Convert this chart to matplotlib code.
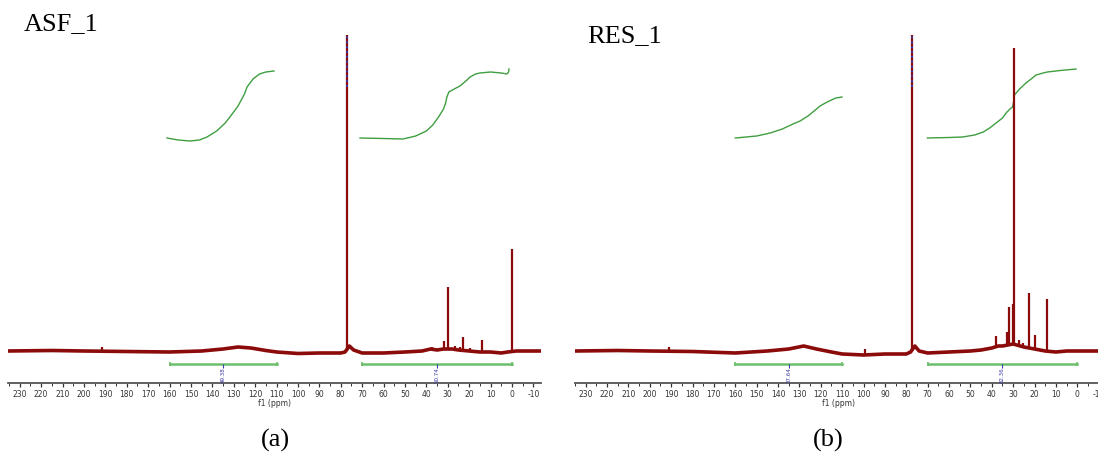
import matplotlib.pyplot as plt
import numpy as np

plt.rcParams['axes.unicode_minus'] = False

# ---- data (intensity in arbitrary units, 0 = baseline) ----
# panel (a) ASF_1
base_a_ppm = [235.5, 215, 200, 180, 160, 145, 135, 128, 122, 115, 110, 100, 90, 80, 78,
              76, 74, 70, 60, 50, 42, 38, 35, 32, 28, 25, 20, 15, 10, 5, 2, -2, -8, -13.6]
base_a_int = [1, 1.5, 1, 0.5, 0, 1, 3, 5, 4, 1.5, 0, -1.5, -1, -1, 0,
              6, 2, -1, -1, 0, 1, 3, 2, 3, 3, 2, 1, 0, 0, -1, 0, 1, 1, 1]
peak_a_ppm = [191.5, 77.2, 37.2, 31.9, 29.7, 26.5, 24.4, 22.7, 19.7, 14.1, 0.0]
peak_a_int = [5, 317, 5, 11, 65, 6, 5, 15, 4, 12, 103]
integ_a = [([161.2, 156, 150.5, 146, 142.5, 138, 134, 131.8, 128, 125, 123.8, 121, 118, 115, 111.2],
            [214, 212, 211, 212, 215, 221, 229, 235, 246, 258, 265, 273, 278, 280, 281]),
           ([71, 60, 50.9, 45, 40, 37, 34, 32, 31, 30.4, 29.5, 27, 24.3, 21, 19.6, 17, 15, 10, 5,
             2.3, 1.6, 1.4],
            [214, 213.5, 213, 216, 221, 227, 236, 243, 249, 255, 260, 263, 266, 272, 275, 278,
             279, 280, 279, 278, 280, 283])]
ranges_a = [(160, 110), (70, 0)]
values_a = ["49.38", "50.74"]

# panel (b) RES_1
base_b_ppm = [234.7, 215, 200, 180, 160, 145, 135, 128, 122, 115, 110, 100, 90, 80, 78,
              76, 74, 70, 60, 50, 45, 40, 37, 35, 30, 25, 20, 15, 10, 5, 0, -12]
base_b_int = [1, 1.5, 1, 0.5, -1, 1, 3, 6, 3, 0, -2, -3, -2, -2, 0,
              6, 1, -1, 0, 1, 2, 4, 6, 6, 8, 5, 3, 1, 0, 1, 1, 1]
peak_b_ppm = [191.0, 99.5, 77.2, 37.9, 37.3, 33.0, 31.9, 30.2, 29.7, 27.4, 25.2, 22.7, 19.7, 14.1]
peak_b_int = [5, 3, 317, 16, 6, 20, 45, 48, 304, 12, 9, 59, 17, 53]
integ_b = [([160, 150, 143.7, 138, 133, 129.7, 126, 122, 120.4, 117, 113, 110.1],
            [214, 216, 219, 223, 228, 231, 236, 243, 246, 250, 254, 255]),
           ([70.1, 60, 53.7, 48, 44, 41, 38, 35, 33.3, 31.5, 30.3, 29.8, 29.4, 27, 24, 21, 19.3,
             16, 14, 8, 0.6],
            [214, 214.5, 215, 217, 220, 224, 229, 234, 239, 243, 245, 250, 257, 263, 269, 274,
             277, 279, 280, 281.5, 283])]
ranges_b = [(160, 110), (70, 0)]
values_b = ["37.64", "62.36"]

W, H = 1098, 459
fig = plt.figure(figsize=(W / 100, H / 100), dpi=100)

RED = '#8b0a0a'
GREEN = '#3f9e3f'
BAR_GREEN = '#6cbf6c'
BLUE = '#3a3aa8'


def draw_panel(left_px, xlim, base_ppm, base_int, peak_ppm, peak_int,
               integrals, ranges, values, title, title_x, title_y, letter, letter_x):
    px_per_ppm = 2.14
    width_px = (xlim[0] - xlim[1]) * px_per_ppm
    ax = fig.add_axes([left_px / W, 1 - 383 / H, width_px / W, 363 / H])
    ax.set_xlim(*xlim)
    ax.set_ylim(-31, 332)

    # spectrum
    ax.plot(base_ppm, base_int, color=RED, lw=2.6, solid_joinstyle='round', zorder=3)
    bases = np.interp(peak_ppm, base_ppm[::-1], base_int[::-1])
    ax.vlines(peak_ppm, bases, peak_int, color=RED, lw=1.6, zorder=3)
    # peak labels crowding the top of the solvent line
    top = max(peak_int)
    ax.vlines(77.2, top - 52, top, color=BLUE, lw=1.4, linestyles=(0, (1, 1.5)), zorder=4)

    # integral curves
    for xs, ys in integrals:
        ax.plot(xs, ys, color=GREEN, lw=1.0, zorder=2)

    # integral bars
    for (a, b), v in zip(ranges, values):
        ax.plot([a, b], [-12, -12], color=BAR_GREEN, lw=1.8, zorder=2)
        ax.vlines([a, b], -14, -10, color=BAR_GREEN, lw=1.2)
        mid = (a + b) / 2
        ax.vlines(mid, -16, -12, color=BLUE, lw=0.8)
        ax.text(mid, -15, v, rotation=90, fontsize=4, color=BLUE,
                ha='center', va='top')

    for s in ['top', 'left', 'right']:
        ax.spines[s].set_visible(False)
    ax.spines['bottom'].set_color('#555555')
    ax.spines['bottom'].set_linewidth(1.3)
    ax.set_yticks([])
    ax.set_xticks(np.arange(230, xlim[1] - 1, -10))
    ax.set_xticks(np.arange(235, xlim[1] - 1, -5), minor=True)
    ax.tick_params(axis='x', which='major', length=3, width=0.9, color='#333333',
                   labelsize=5.5, labelcolor='#333333', pad=2)
    ax.tick_params(axis='x', which='minor', length=2, width=0.7, color='#333333')
    ax.set_xlabel('f1 (ppm)', fontsize=5.5, color='#333333', labelpad=0)
    ax.patch.set_visible(False)

    fig.text(title_x / W, 1 - title_y / H, title, fontsize=19,
             family='Liberation Serif', ha='left', va='center')
    fig.text(letter_x / W, 1 - 440 / H, letter,
             fontsize=19, family='Liberation Serif', ha='center', va='center')
    return ax


draw_panel(8, (235.5, -13.6), base_a_ppm, base_a_int, peak_a_ppm, peak_a_int,
           integ_a, ranges_a, values_a, 'ASF_1', 24, 24, '(a)', 275)
draw_panel(575, (234.7, -12.0), base_b_ppm, base_b_int, peak_b_ppm, peak_b_int,
           integ_b, ranges_b, values_b, 'RES_1', 587, 36, '(b)', 828)

fig.savefig('out.png', dpi=100)
